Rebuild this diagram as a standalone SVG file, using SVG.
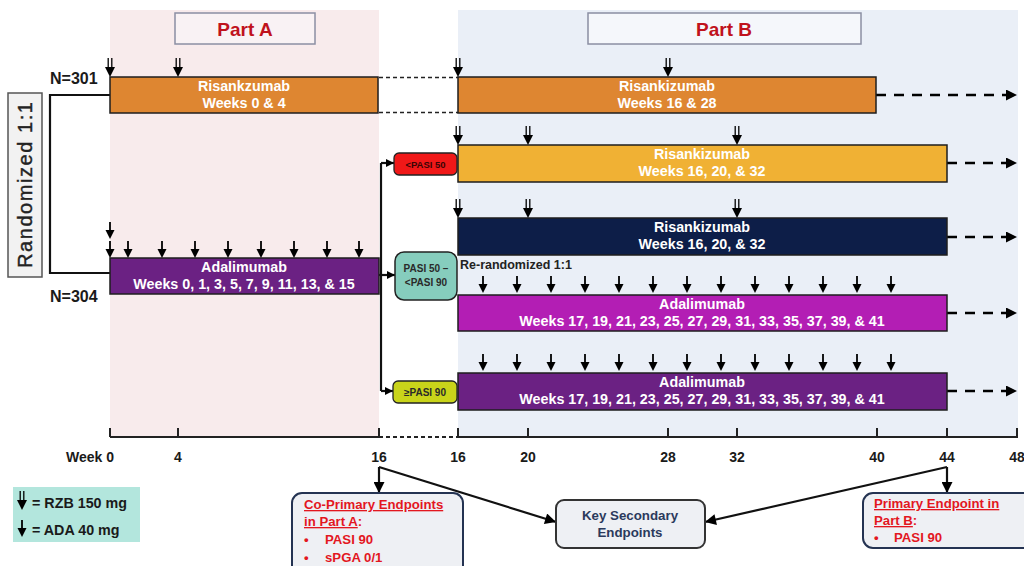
<svg xmlns="http://www.w3.org/2000/svg" width="1024" height="566" viewBox="0 0 1024 566">
<defs>
<style>
text{font-family:"Liberation Sans",Arial,sans-serif;font-weight:bold}
.bar{stroke:#1e1e1e;stroke-width:1.5}
.bt{fill:#fff;font-size:14.3px;text-anchor:middle}
.wk{font-size:14px;fill:#1a1a1a;text-anchor:middle}
.dash{stroke:#000;stroke-width:2.5;stroke-dasharray:10 8;fill:none}
.ln{stroke:#111;stroke-width:2.2;fill:none}
.ep{fill:#e3171f;font-size:13.2px}
.pasi{fill:#2a2a2a;font-size:9.5px;text-anchor:middle}
.tick{stroke:#222;stroke-width:2}
.title{fill:#c0121c;font-size:19px;text-anchor:middle}
.ebox{fill:#eef0f4;stroke:#243352;stroke-width:2}
</style>
<marker id="ah" viewBox="0 0 10 10" refX="10" refY="5" markerWidth="13" markerHeight="11" markerUnits="userSpaceOnUse" orient="auto"><path d="M0,0L10,5L0,10z" fill="#000"/></marker>
<marker id="ahs" viewBox="0 0 10 10" refX="10" refY="5" markerWidth="8" markerHeight="8" markerUnits="userSpaceOnUse" orient="auto"><path d="M0,0L10,5L0,10z" fill="#000"/></marker>
<g id="rzb"><path d="M-1.8,-19V-9M1.8,-19V-9" stroke="#000" stroke-width="1.3"/><path d="M-5,-10H5L0,0z" fill="#000"/></g>
<g id="ada"><path d="M0,-17V-8" stroke="#000" stroke-width="1.8"/><path d="M-4.5,-9H4.5L0,0z" fill="#000"/></g>
</defs>

<g id="backgrounds">
<rect x="110" y="10" width="269" height="427" fill="#f8ebec"/>
<rect x="458" y="10" width="560" height="427" fill="#eaeff7"/>
</g>

<g id="partA-title"><rect x="175" y="13" width="140" height="31" fill="#f9f2f4" stroke="#8b8fa3" stroke-width="1.5"/><text class="title" x="245" y="36">Part A</text></g>
<g id="partB-title"><rect x="588" y="13" width="273" height="31" fill="#f5f7fb" stroke="#8b8fa3" stroke-width="1.5"/><text class="title" x="724" y="36">Part B</text></g>

<g id="randomized"><rect x="8" y="93" width="34" height="184" fill="#f2f2f2" stroke="#555" stroke-width="1.5"/><text transform="translate(32,185) rotate(-90)" text-anchor="middle" font-size="20" style="font-weight:normal" fill="#222" stroke="#222" stroke-width="0.4" textLength="166">Randomized  1:1</text></g>
<text x="50" y="84" font-size="16" fill="#1a1a1a">N=301</text>
<text x="50" y="302" font-size="16" fill="#1a1a1a">N=304</text>

<g id="connectors">
<path class="ln" d="M110,95H50V273H110" stroke-width="1.6"/>
<path d="M379,77.5H458M379,112.5H458" stroke="#222" stroke-width="1.5" stroke-dasharray="4 3"/>
<path class="ln" d="M381,163V391"/>
<path class="ln" d="M381,163H394" marker-end="url(#ahs)"/>
<path class="ln" d="M379,275H395" marker-end="url(#ahs)"/>
<path class="ln" d="M381,391H393" marker-end="url(#ahs)"/>
<path class="dash" d="M876,95H1017" marker-end="url(#ah)"/>
<path class="dash" d="M947,163H1017" marker-end="url(#ah)"/>
<path class="dash" d="M947,237H1017" marker-end="url(#ah)"/>
<path class="dash" d="M947,313H1017" marker-end="url(#ah)"/>
<path class="dash" d="M947,391H1017" marker-end="url(#ah)"/>
<path class="ln" d="M379,467V493" stroke-width="2.5" marker-end="url(#ah)"/>
<path class="ln" d="M379,467L556,522" stroke-width="2.5" marker-end="url(#ah)"/>
<path class="ln" d="M947,467V493" stroke-width="2.5" marker-end="url(#ah)"/>
<path class="ln" d="M947,467L705,522" stroke-width="2.5" marker-end="url(#ah)"/>
</g>

<g id="axis">
<path d="M110,437H379M458,437H1018" stroke="#222" stroke-width="2.2"/>
<path d="M379,437H458" stroke="#222" stroke-width="2" stroke-dasharray="4 3"/>
<path class="tick" d="M110,437V428M178,437V428M379,437V428M458,437V428M528,437V428M668,437V428M737,437V428M877,437V428M947,437V428M1017,437V428"/>
<text class="wk" x="114" y="462" style="text-anchor:end">Week 0</text>
<text class="wk" x="178" y="462">4</text>
<text class="wk" x="379" y="462">16</text>
<text class="wk" x="458" y="462">16</text>
<text class="wk" x="528" y="462">20</text>
<text class="wk" x="668" y="462">28</text>
<text class="wk" x="737" y="462">32</text>
<text class="wk" x="877" y="462">40</text>
<text class="wk" x="947" y="462">44</text>
<text class="wk" x="1017" y="462">48</text>
</g>

<g id="rzb-partA">
<rect class="bar" x="110" y="77" width="268" height="36" fill="#de8631"/>
<text class="bt" x="244" y="91">Risankzumab</text><text class="bt" x="244" y="108">Weeks 0 &amp; 4</text>
<use href="#rzb" x="110" y="77"/><use href="#rzb" x="178" y="77"/>
</g>

<g id="ada-partA">
<rect class="bar" x="110" y="258" width="269" height="36" fill="#6b2183"/>
<text class="bt" x="244" y="272">Adalimumab</text><text class="bt" x="244" y="289">Weeks 0, 1, 3, 5, 7, 9, 11, 13, &amp; 15</text>
<use href="#ada" x="110" y="239"/><use href="#ada" x="110" y="258"/>
<use href="#ada" x="128" y="258"/><use href="#ada" x="162" y="258"/><use href="#ada" x="195" y="258"/><use href="#ada" x="228" y="258"/><use href="#ada" x="261" y="258"/><use href="#ada" x="294" y="258"/><use href="#ada" x="327" y="258"/><use href="#ada" x="359" y="258"/>
</g>

<g id="rzb-partB-1">
<rect class="bar" x="458" y="77" width="418" height="36" fill="#de8631"/>
<text class="bt" x="667" y="91">Risankizumab</text><text class="bt" x="667" y="108">Weeks 16 &amp; 28</text>
<use href="#rzb" x="458" y="77"/><use href="#rzb" x="668" y="77"/>
</g>

<g id="lt-pasi50"><rect x="394" y="153" width="63" height="22" rx="5" fill="#f01818" stroke="#222" stroke-width="1.3"/><text class="pasi" x="425.5" y="167.5" style="font-size:9.5px;fill:#3a0505">&lt;PASI 50</text></g>

<g id="rzb-partB-2">
<rect class="bar" x="458" y="145" width="489" height="37" fill="#f0b134"/>
<text class="bt" x="702" y="159">Risankizumab</text><text class="bt" x="702" y="176">Weeks 16, 20, &amp; 32</text>
<use href="#rzb" x="458" y="145"/><use href="#rzb" x="528" y="145"/><use href="#rzb" x="737" y="145"/>
</g>

<g id="rzb-partB-3">
<rect class="bar" x="458" y="218" width="489" height="37" fill="#0d1e48"/>
<text class="bt" x="702" y="232">Risankizumab</text><text class="bt" x="702" y="249">Weeks 16, 20, &amp; 32</text>
<use href="#rzb" x="458" y="218"/><use href="#rzb" x="528" y="218"/><use href="#rzb" x="737" y="218"/>
</g>

<g id="mid-pasi"><rect x="395" y="252" width="62" height="48" rx="9" fill="#86cdbd" stroke="#222" stroke-width="1.5"/><text class="pasi" x="426" y="272" style="font-size:10px">PASI 50 –</text><text class="pasi" x="426" y="286" style="font-size:10px">&lt;PASI 90</text></g>
<text x="460" y="269" font-size="12.5" fill="#222">Re-randomized 1:1</text>

<g id="ada-partB-1">
<rect class="bar" x="458" y="295" width="489" height="36" fill="#b31eb4"/>
<text class="bt" x="702" y="309">Adalimumab</text><text class="bt" x="702" y="326">Weeks 17, 19, 21, 23, 25, 27, 29, 31, 33, 35, 37, 39, &amp; 41</text>
<use href="#ada" x="483" y="293"/><use href="#ada" x="517" y="293"/><use href="#ada" x="551" y="293"/><use href="#ada" x="585" y="293"/><use href="#ada" x="619" y="293"/><use href="#ada" x="653" y="293"/><use href="#ada" x="687" y="293"/><use href="#ada" x="721" y="293"/><use href="#ada" x="755" y="293"/><use href="#ada" x="789" y="293"/><use href="#ada" x="823" y="293"/><use href="#ada" x="857" y="293"/><use href="#ada" x="891" y="293"/>
</g>

<g id="ge-pasi90"><rect x="393" y="381" width="64" height="22" rx="5" fill="#c9d41a" stroke="#222" stroke-width="1.3"/><text class="pasi" x="425" y="396" style="font-size:10px">≥PASI 90</text></g>

<g id="ada-partB-2">
<rect class="bar" x="458" y="373" width="489" height="37" fill="#6b2183"/>
<text class="bt" x="702" y="387">Adalimumab</text><text class="bt" x="702" y="404">Weeks 17, 19, 21, 23, 25, 27, 29, 31, 33, 35, 37, 39, &amp; 41</text>
<use href="#ada" x="483" y="371"/><use href="#ada" x="517" y="371"/><use href="#ada" x="551" y="371"/><use href="#ada" x="585" y="371"/><use href="#ada" x="619" y="371"/><use href="#ada" x="653" y="371"/><use href="#ada" x="687" y="371"/><use href="#ada" x="721" y="371"/><use href="#ada" x="755" y="371"/><use href="#ada" x="789" y="371"/><use href="#ada" x="823" y="371"/><use href="#ada" x="857" y="371"/><use href="#ada" x="891" y="371"/>
</g>

<g id="legend">
<rect x="13" y="487" width="127" height="55" fill="#b3e6dd"/>
<use href="#rzb" x="22" y="510"/><text x="32" y="508" font-size="14.3" fill="#1a1a1a">= RZB 150 mg</text>
<use href="#ada" x="22" y="537"/><text x="32" y="535" font-size="14.3" fill="#1a1a1a">= ADA 40 mg</text>
</g>

<g id="coprimary">
<rect class="ebox" x="292" y="493" width="171" height="95" rx="10"/>
<text class="ep" x="304" y="509" text-decoration="underline">Co-Primary Endpoints</text>
<text class="ep" x="304" y="526"><tspan text-decoration="underline">in Part A</tspan>:</text>
<text class="ep" x="304" y="544">•</text><text class="ep" x="325" y="544">PASI 90</text>
<text class="ep" x="304" y="562">•</text><text class="ep" x="325" y="562">sPGA 0/1</text>
</g>

<g id="key-secondary">
<rect x="556" y="500" width="149" height="48" rx="8" fill="#eef0f4" stroke="#333" stroke-width="2"/>
<text x="630" y="520" font-size="13.3" fill="#2b3a5c" text-anchor="middle">Key Secondary</text>
<text x="630" y="537" font-size="13.3" fill="#2b3a5c" text-anchor="middle">Endpoints</text>
</g>

<g id="primary-b">
<rect class="ebox" x="863" y="493" width="175" height="55" rx="10"/>
<text class="ep" x="874" y="508" text-decoration="underline">Primary Endpoint in</text>
<text class="ep" x="874" y="525"><tspan text-decoration="underline">Part B</tspan>:</text>
<text class="ep" x="874" y="542">•</text><text class="ep" x="894" y="542">PASI 90</text>
</g>
</svg>
